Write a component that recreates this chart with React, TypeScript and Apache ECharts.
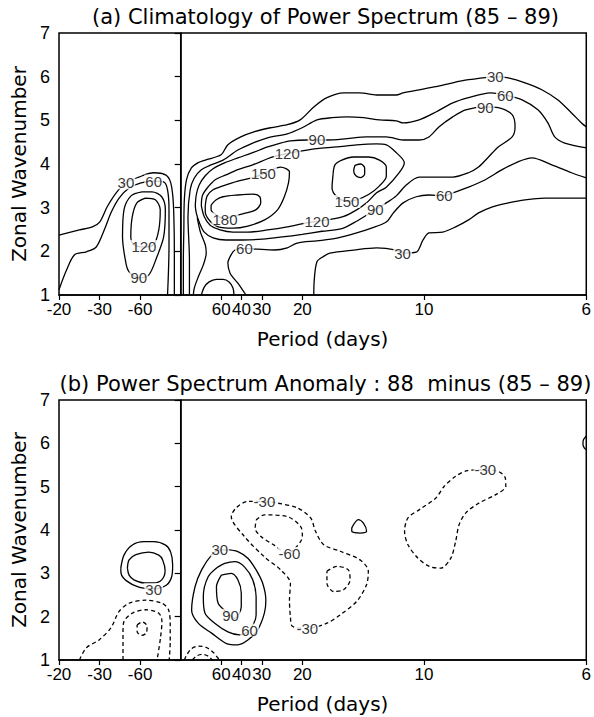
import React, { useEffect, useRef } from "react";
import * as echarts from "echarts";

// ---------- axes ----------
const periodTicks = [-20, -30, -60, 60, 40, 30, 20, 10, 6]; // days
const freqTicks = periodTicks.map((p) => 1000 / p); // x in 1e-3 cycles/day
const freqMin = -50;
const freqMax = 1000 / 6;
const waveMin = 1;
const waveMax = 7;
const zeroLine = [[0, 1], [0, 7]];

// ---------- panel (a) contours: [frequency (1e-3 cpd), wavenumber] ----------
const aWest30 = [[-50.0,2.37],[-41.6,2.49],[-36.3,2.56],[-33.3,2.67],[-30.2,3.02],[-26.5,3.34],[-22.5,3.57],[-17.2,3.70],[-11.1,3.80],[-6.2,3.75],[-4.2,3.59],[-3.2,3.25],[-2.8,2.79],[-2.6,2.03],[-2.6,1.34],[-2.6,1.0]];
const aWest60 = [[-50.0,1.12],[-46.9,1.57],[-43.6,1.92],[-38.7,1.99],[-34.7,2.10],[-31.4,2.49],[-28.5,2.90],[-25.3,3.22],[-21.2,3.45],[-16.3,3.57],[-11.1,3.61],[-7.0,3.59],[-5.4,3.41],[-4.8,2.95],[-4.8,2.10],[-5.0,1.57],[-5.4,1.0]];
const aWest90 = [[-15.9,3.36],[-11.8,3.36],[-7.8,3.25],[-6.3,2.95],[-7.0,2.33],[-9.8,1.87],[-13.1,1.46],[-17.2,1.39],[-21.2,1.53],[-22.5,1.73],[-23.9,2.33],[-23.3,2.95],[-20.4,3.27],[-15.9,3.36]];
const aWest120 = [[-14.5,3.22],[-10.4,3.18],[-8.4,2.95],[-9.0,2.49],[-11.1,2.15],[-15.1,2.10],[-19.2,2.15],[-20.5,2.33],[-19.9,2.79],[-18.0,3.11],[-14.5,3.22]];

const aEast30Upper = [[1.1,1.0],[1.1,1.80],[1.3,2.49],[1.5,3.18],[2.4,3.64],[4.4,3.91],[7.2,4.03],[10.1,4.09],[16.6,4.21],[19.4,4.44],[24.7,4.62],[30.4,4.74],[36.9,4.83],[43.8,4.90],[49.1,5.01],[54.8,5.31],[60.1,5.52],[67.0,5.63],[73.6,5.63],[80.5,5.58],[88.6,5.58],[91.4,5.63],[98.0,5.70],[104.9,5.77],[111.8,5.86],[118.3,5.93],[125.2,5.98],[129.3,6.0],[134.6,5.97],[141.5,5.86],[148.4,5.70],[154.9,5.47],[160.6,5.17],[164.7,4.94],[166.7,4.85]];
const aEast60Upper = [[3.6,1.0],[3.6,1.80],[3.0,2.79],[3.9,3.41],[5.6,3.68],[8.5,3.87],[12.5,3.98],[17.4,4.09],[23.5,4.32],[29.6,4.48],[35.7,4.60],[43.8,4.69],[49.9,4.83],[56.0,5.01],[62.2,5.06],[68.3,5.08],[75.2,5.06],[81.7,5.01],[88.6,4.99],[91.4,4.94],[98.0,5.01],[104.9,5.19],[111.8,5.40],[118.3,5.52],[127.3,5.63],[133.4,5.58],[140.3,5.47],[146.8,5.24],[150.9,4.94],[153.7,4.62],[157.8,4.48],[166.7,4.37]];
const aEast90 = [[6.0,3.04],[6.4,3.29],[7.6,3.52],[10.1,3.73],[13.3,3.89],[18.2,4.03],[23.5,4.14],[29.6,4.26],[35.7,4.39],[41.0,4.48],[45.1,4.53],[51.9,4.55],[60.1,4.55],[68.3,4.58],[76.4,4.62],[84.5,4.62],[91.4,4.55],[98.0,4.55],[102.0,4.62],[106.1,4.85],[111.8,5.08],[117.1,5.24],[125.2,5.31],[130.5,5.29],[136.2,5.13],[137.4,4.85],[136.2,4.62],[130.5,4.39],[126.5,4.16],[122.4,3.93],[118.3,3.80],[111.8,3.70],[104.9,3.70],[98.0,3.70],[92.7,3.52],[88.6,3.27],[84.5,3.11],[78.4,2.90],[72.3,2.69],[66.2,2.52],[58.1,2.46],[49.9,2.39],[41.8,2.33],[33.7,2.28],[25.5,2.26],[18.6,2.26],[13.3,2.31],[9.7,2.44],[7.6,2.67],[6.4,2.88],[6.0,3.04]];
const aEast90Tail = [[6.8,2.77],[8.1,2.44],[10.1,2.15],[10.5,1.96],[9.3,1.69],[7.2,1.41],[5.6,1.16],[5.2,1.0]];
const aEast120 = [[8.5,3.04],[8.9,3.27],[10.9,3.45],[14.2,3.64],[18.6,3.75],[23.5,3.87],[29.6,3.98],[35.7,4.12],[39.8,4.19],[43.8,4.24],[49.9,4.30],[56.0,4.35],[64.2,4.39],[72.3,4.44],[80.5,4.46],[84.5,4.44],[88.6,4.26],[91.9,4.03],[89.8,3.80],[84.5,3.47],[80.5,3.34],[76.4,3.11],[72.3,2.95],[67.0,2.80],[60.1,2.72],[51.9,2.65],[43.8,2.56],[35.7,2.49],[27.6,2.44],[21.5,2.44],[16.2,2.49],[12.1,2.60],[9.7,2.79],[8.5,3.04]];
const aEast150 = [[10.1,3.04],[10.9,3.27],[13.3,3.41],[17.4,3.50],[23.5,3.61],[30.4,3.70],[35.7,3.82],[41.0,3.93],[44.7,3.82],[44.3,3.57],[42.6,3.25],[39.8,2.95],[34.5,2.72],[27.6,2.58],[21.5,2.53],[15.4,2.56],[12.1,2.69],[10.1,2.90],[10.1,3.04]];
const aEast180 = [[12.5,3.06],[14.6,3.18],[17.4,3.25],[23.5,3.29],[29.6,3.31],[32.5,3.25],[32.9,3.11],[30.8,2.95],[25.5,2.86],[20.7,2.79],[18.2,2.74],[14.6,2.83],[12.5,2.95],[12.5,3.06]];
const aEast150b = [[62.6,3.75],[63.4,3.98],[66.2,4.09],[71.1,4.16],[77.2,4.16],[81.7,4.09],[84.5,3.93],[84.5,3.72],[81.7,3.50],[77.2,3.30],[72.3,3.18],[68.3,3.15],[64.2,3.25],[62.2,3.45],[62.6,3.75]];
const aEast180b = [[71.6,3.97],[74.0,4.0],[75.6,3.91],[75.6,3.77],[74.0,3.69],[72.0,3.73],[71.1,3.84],[71.6,3.97]];
const aEast60Lower = [[166.7,3.68],[160.6,3.80],[152.5,3.98],[144.3,4.14],[138.6,4.05],[132.1,3.87],[125.2,3.64],[118.3,3.47],[111.8,3.34],[108.1,3.27],[102.0,3.29],[96.8,3.25],[91.4,3.11],[87.4,2.88],[84.5,2.67],[78.4,2.53],[72.3,2.42],[64.2,2.30],[56.0,2.24],[47.9,2.19],[43.8,2.08],[38.6,2.03],[31.6,2.05],[26.4,2.07],[22.3,2.03],[20.7,1.92],[19.4,1.73],[20.3,1.50],[23.5,1.27],[26.8,1.0]];
const aEast30Lower = [[54.7,1.0],[54.8,1.27],[56.0,1.76],[58.9,1.89],[61.3,1.96],[71.1,2.03],[80.5,2.08],[88.6,2.03],[91.4,1.96],[96.8,1.98],[99.6,2.26],[102.0,2.42],[107.7,2.44],[113.0,2.56],[118.3,2.72],[122.4,2.88],[128.1,3.02],[134.6,3.11],[141.5,3.18],[149.6,3.22],[157.8,3.22],[166.7,3.22]];
const aEastDome = [[8.5,1.0],[9.7,1.18],[11.7,1.30],[14.6,1.36],[17.4,1.36],[19.9,1.30],[21.5,1.16],[21.9,1.0]];

// contour labels, panel (a): [frequency, wavenumber, text]
const aLabels = [
  [-22.5,3.57,"30"],[-11.1,3.61,"60"],[-17.2,1.39,"90"],[-15.1,2.11,"120"],
  [56.0,4.55,"90"],[43.8,4.24,"120"],[34.0,3.78,"150"],[18.2,2.74,"180"],
  [80.0,2.96,"90"],[56.0,2.69,"120"],[68.3,3.14,"150"],[26.2,2.07,"60"],
  [129.3,6.0,"30"],[133.4,5.58,"60"],[125.2,5.30,"90"],[108.3,3.28,"60"],[91.2,1.96,"30"],
];

// ---------- panel (b) contours ----------
const bWest30Outer = [[-24.6,3.12],[-23.3,3.42],[-20.0,3.65],[-15.1,3.73],[-11.1,3.73],[-6.2,3.65],[-4.1,3.49],[-3.3,3.19],[-3.7,2.92],[-5.8,2.73],[-11.1,2.64],[-17.2,2.68],[-22.1,2.82],[-24.5,3.0],[-24.6,3.12]];
const bWest60Inner = [[-21.9,3.12],[-21.2,3.31],[-18.4,3.43],[-13.1,3.49],[-9.0,3.42],[-7.4,3.31],[-6.4,3.06],[-7.8,2.85],[-11.1,2.78],[-15.1,2.78],[-19.2,2.85],[-21.2,2.96],[-21.9,3.12]];
const bWestNeg30 = [[-41.6,1.0],[-38.8,1.28],[-33.4,1.47],[-28.7,1.74],[-25.3,2.12],[-21.2,2.31],[-14.4,2.38],[-7.7,2.31],[-5.0,2.16],[-4.3,1.81],[-4.3,1.43],[-4.7,1.0]];
const bWestNeg60 = [[-23.7,1.0],[-23.7,1.66],[-23.3,1.89],[-19.9,2.08],[-14.4,2.16],[-9.0,2.08],[-7.7,1.89],[-8.3,1.51],[-9.7,1.0]];
const bWestNeg90 = [[-17.9,1.81],[-15.8,1.88],[-13.8,1.78],[-14.2,1.62],[-16.1,1.57],[-17.9,1.66],[-17.9,1.81]];
const bEastNeg30Dome = [[1.5,1.0],[2.4,1.11],[4.4,1.26],[7.2,1.32],[10.5,1.29],[13.3,1.18],[15.4,1.04],[15.8,1.0]];
const bEastNeg60Dome = [[4.8,1.0],[6.4,1.09],[8.9,1.13],[11.3,1.09],[12.9,1.0]];
const bEast30 = [[20.1,3.54],[23.5,3.50],[27.6,3.35],[31.0,3.08],[33.7,2.77],[35.0,2.38],[34.4,2.08],[31.6,1.69],[27.6,1.46],[23.5,1.35],[18.8,1.38],[12.7,1.62],[7.2,1.85],[4.5,2.15],[5.9,2.69],[8.6,3.08],[12.7,3.42],[16.1,3.54],[20.1,3.54]];
const bEast60 = [[15.4,3.15],[11.3,2.92],[9.3,2.46],[10.0,2.08],[14.0,1.85],[19.4,1.65],[24.2,1.58],[28.3,1.69],[31.0,2.04],[31.0,2.46],[29.6,2.85],[26.2,3.15],[22.2,3.27],[18.1,3.23],[15.4,3.15]];
const bEast90 = [[16.7,2.96],[14.7,2.69],[15.4,2.31],[18.8,2.11],[22.2,1.96],[24.9,2.23],[24.9,2.54],[23.5,2.85],[20.8,3.0],[16.7,2.96]];
const bEastNeg30 = [[34.4,4.66],[39.8,4.62],[47.9,4.51],[53.4,4.28],[55.4,3.97],[58.8,3.66],[65.5,3.51],[73.7,3.31],[77.1,3.05],[76.4,2.74],[72.3,2.35],[65.5,2.04],[60.1,1.85],[52.0,1.73],[45.9,1.78],[45.1,1.99],[44.7,2.38],[45.1,2.77],[41.1,3.08],[34.4,3.38],[26.2,3.85],[20.8,4.31],[22.8,4.51],[27.6,4.66],[34.4,4.66]];
const bEastNeg60 = [[31.0,4.23],[34.4,4.35],[43.8,4.31],[49.3,4.08],[50.0,3.85],[47.9,3.63],[43.8,3.46],[38.4,3.65],[33.0,3.85],[30.6,4.04],[31.0,4.23]];
const bEastNeg60Small = [[60.1,3.05],[64.2,3.16],[68.9,3.08],[69.6,2.85],[66.9,2.62],[62.9,2.58],[60.1,2.77],[60.1,3.05]];
const bEast30Small = [[70.3,4.05],[73.0,4.24],[75.1,4.16],[76.4,3.97],[73.7,3.93],[70.3,3.97],[70.3,4.05]];
const bEastNeg30Right = [[125.2,5.39],[130.6,5.35],[133.4,5.20],[133.6,5.01],[129.3,4.81],[122.5,4.62],[117.1,4.39],[114.4,4.12],[113.0,3.74],[111.0,3.35],[106.9,3.12],[102.2,3.16],[97.5,3.35],[93.4,3.66],[92.0,3.97],[93.4,4.28],[98.1,4.47],[104.9,4.74],[108.3,5.01],[113.0,5.24],[117.8,5.37],[125.2,5.39]];
const bEdge30 = [[166.7,6.17],[165.5,6.08],[165.3,5.98],[165.9,5.89],[166.7,5.85]];

const bLabels = [
  [-11.1,2.62,"30"],[16.1,3.54,"30"],[20.5,2.03,"90"],[28.3,1.69,"60"],
  [34.4,4.66,"-30"],[52.0,1.73,"-30"],[44.7,3.46,"-60"],[125.2,5.39,"-30"],
];

const solidA = [aWest30, aWest60, aWest90, aWest120, aEast30Upper, aEast60Upper, aEast90, aEast90Tail, aEast120, aEast150, aEast180, aEast150b, aEast180b, aEast60Lower, aEast30Lower, aEastDome];
const solidB = [bWest30Outer, bWest60Inner, bEast30, bEast60, bEast90, bEast30Small, bEdge30];
const dashedB = [bWestNeg30, bWestNeg60, bWestNeg90, bEastNeg30Dome, bEastNeg60Dome, bEastNeg30, bEastNeg60, bEastNeg60Small, bEastNeg30Right];

const LFONT = '"Liberation Sans", Arial, sans-serif';
const TFONT = '"DejaVu Sans", sans-serif';

function lineSeries(data: number[][], gi: number, dashed: boolean, width = 1.3) {
  return {
    type: "line",
    xAxisIndex: gi,
    yAxisIndex: gi,
    data,
    symbol: "none",
    showSymbol: false,
    smooth: 0.3,
    silent: true,
    z: 2,
    lineStyle: { color: "#000", width, type: dashed ? [4, 3] : "solid" },
  };
}

function labelSeries(data: (number | string)[][], gi: number) {
  return {
    type: "scatter",
    xAxisIndex: gi,
    yAxisIndex: gi,
    data,
    symbolSize: 1,
    silent: true,
    z: 10,
    itemStyle: { color: "rgba(0,0,0,0)" },
    label: {
      show: true,
      position: "inside",
      formatter: (p: any) => p.value[2],
      color: "#000",
      fontSize: 15,
      lineHeight: 13,
      fontFamily: LFONT,
      backgroundColor: "#fff",
      padding: [0, 1, 0, 1],
    },
  };
}

function xAxis(gi: number) {
  return {
    gridIndex: gi,
    type: "value",
    min: freqMin,
    max: freqMax,
    axisLine: { show: true, lineStyle: { color: "#000", width: 1.5 } },
    axisTick: { show: true, customValues: freqTicks, length: 5, lineStyle: { color: "#000", width: 1.2 } },
    axisLabel: {
      customValues: freqTicks,
      formatter: (v: number) => String(Math.round(1000 / v)),
      color: "#000",
      fontSize: 17,
      fontFamily: LFONT,
      margin: 6,
    },
    splitLine: { show: false },
    name: "Period (days)",
    nameLocation: "middle",
    nameGap: 34,
    nameTextStyle: { color: "#000", fontSize: 20, fontFamily: TFONT },
  };
}

function yAxis(gi: number) {
  return {
    gridIndex: gi,
    type: "value",
    min: waveMin,
    max: waveMax,
    interval: 1,
    axisLine: { show: true, lineStyle: { color: "#000", width: 1.5 } },
    axisTick: { show: true, length: 6, lineStyle: { color: "#000", width: 1.2 } },
    axisLabel: { color: "#000", fontSize: 18, fontFamily: LFONT, margin: 9 },
    splitLine: { show: false },
    name: "Zonal Wavenumber",
    nameLocation: "middle",
    nameGap: 30,
    nameRotate: 90,
    nameTextStyle: { color: "#000", fontSize: 20, fontFamily: TFONT },
  };
}

export default function App() {
  const ref = useRef<HTMLDivElement>(null);
  useEffect(() => {
    if (!ref.current) return;
    const chart = echarts.init(ref.current, undefined, { renderer: "svg" });
    const series: any[] = [];
    solidA.forEach((d) => series.push(lineSeries(d, 0, false)));
    series.push(lineSeries(zeroLine, 0, false, 1.4));
    solidB.forEach((d) => series.push(lineSeries(d, 1, false)));
    dashedB.forEach((d) => series.push(lineSeries(d, 1, true)));
    series.push(lineSeries(zeroLine, 1, false, 1.4));
    series.push(labelSeries(aLabels, 0));
    series.push(labelSeries(bLabels, 1));
    chart.setOption({
      animation: false,
      backgroundColor: "#fff",
      grid: [
        { left: 59, top: 33, width: 533, height: 262, show: true, borderColor: "#000", borderWidth: 1.5 },
        { left: 59, top: 400, width: 533, height: 260, show: true, borderColor: "#000", borderWidth: 1.5 },
      ],
      xAxis: [xAxis(0), xAxis(1)],
      yAxis: [yAxis(0), yAxis(1)],
      graphic: [
        {
          type: "text",
          x: 325.5,
          y: 17,
          style: { text: "(a) Climatology of Power Spectrum (85 – 89)", fill: "#000", font: `21px ${TFONT}`, textAlign: "center", textVerticalAlign: "middle" },
        },
        {
          type: "text",
          x: 325.5,
          y: 384,
          style: { text: "(b) Power Spectrum Anomaly : 88  minus (85 – 89)", fill: "#000", font: `21px ${TFONT}`, textAlign: "center", textVerticalAlign: "middle" },
        },
      ],
      series,
    });
    return () => chart.dispose();
  }, []);
  return <div ref={ref} style={{ position: "fixed", left: 0, top: 0, width: 594, height: 717, background: "#fff" }} />;
}
